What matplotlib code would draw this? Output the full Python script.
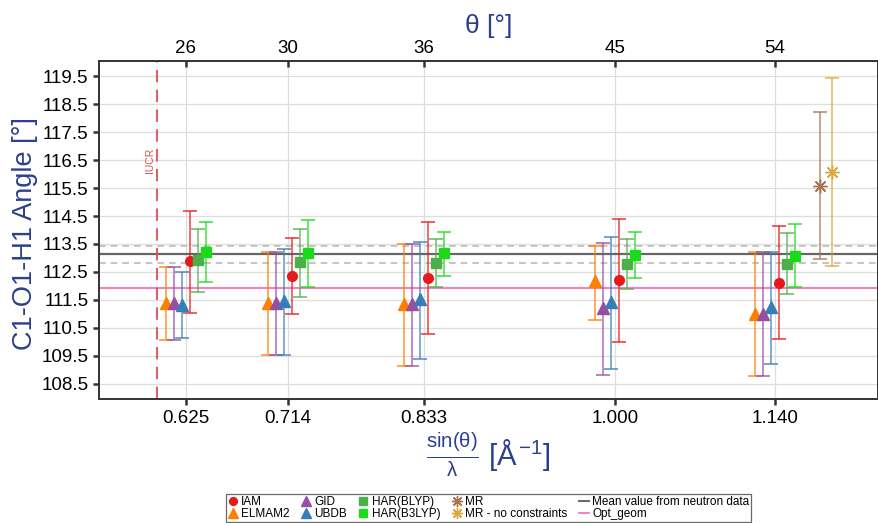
import numpy as np
import matplotlib
matplotlib.use("Agg")
import matplotlib.pyplot as plt
from matplotlib.lines import Line2D

plt.rcParams['font.family'] = ['Liberation Sans', 'DejaVu Sans']
plt.rcParams['mathtext.fontset'] = 'custom'
plt.rcParams['mathtext.rm'] = 'Liberation Sans'
plt.rcParams['mathtext.it'] = 'Liberation Sans'
plt.rcParams['mathtext.bf'] = 'Liberation Sans:bold'

# -----------------------------------
# Data
# -----------------------------------
stol = [0.625, 0.714, 0.833, 1.000, 1.140]        # sin(theta)/lambda
theta_labels = ["26", "30", "36", "45", "54"]

iam_val = [112.88, 112.37, 112.29, 112.21, 112.12]
iam_lo = [111.05, 110.99, 110.30, 110.00, 110.11]
iam_hi = [114.69, 113.73, 114.29, 114.40, 114.14]

elmam2_val = [111.40, 111.40, 111.36, 112.17, 111.01]
elmam2_lo = [110.06, 109.54, 109.15, 110.79, 108.78]
elmam2_hi = [112.69, 113.20, 113.51, 113.44, 113.20]

gid_val = [111.40, 111.40, 111.36, 111.23, 111.01]
gid_lo = [110.06, 109.54, 109.15, 108.83, 108.78]
gid_hi = [112.69, 113.20, 113.51, 113.54, 113.20]

ubdb_val = [111.33, 111.47, 111.52, 111.43, 111.25]
ubdb_lo = [110.13, 109.52, 109.39, 109.02, 109.20]
ubdb_hi = [112.49, 113.31, 113.57, 113.75, 113.23]

blyp_val = [112.92, 112.85, 112.83, 112.80, 112.80]
blyp_lo = [111.79, 111.62, 111.98, 111.89, 111.70]
blyp_hi = [114.02, 114.05, 113.68, 113.68, 113.90]

b3lyp_val = [113.23, 113.17, 113.17, 113.12, 113.07]
b3lyp_lo = [112.13, 111.95, 112.37, 112.29, 111.98]
b3lyp_hi = [114.29, 114.37, 113.93, 113.92, 114.20]

mr_x = [1.140]
mr_val = [115.59]
mr_lo = [112.95]
mr_hi = [118.23]

mrnc_x = [1.140]
mrnc_val = [116.07]
mrnc_lo = [112.73]
mrnc_hi = [119.44]

neutron_mean = 113.13
neutron_sd = 0.30
opt_geom = 111.93
iucr_limit = 0.600

# -----------------------------------
# Styles
# -----------------------------------
title_col = '#2B3F8E'
series = [
    # label, x, val, lo, hi, colour, marker, size, dodge
    ("IAM", stol, iam_val, iam_lo, iam_hi, '#E41A1C', 'o', 7, 0.0035),
    ("ELMAM2", stol, elmam2_val, elmam2_lo, elmam2_hi, '#FF7F00', '^', 8.5, -0.0175),
    ("GID", stol, gid_val, gid_lo, gid_hi, '#984EA3', '^', 8.5, -0.0105),
    ("UBDB", stol, ubdb_val, ubdb_lo, ubdb_hi, '#377EB8', '^', 8.5, -0.0035),
    ("HAR(BLYP)", stol, blyp_val, blyp_lo, blyp_hi, '#4DAF4A', 's', 6.8, 0.0105),
    ("HAR(B3LYP)", stol, b3lyp_val, b3lyp_lo, b3lyp_hi, '#1ADB1A', 's', 6.8, 0.0175),
    ("MR", mr_x, mr_val, mr_lo, mr_hi, '#A9744F', (8, 2, 0), 10, 0.0397),
    ("MR - no constraints", mrnc_x, mrnc_val, mrnc_lo, mrnc_hi, '#DDA63A', (8, 2, 0), 10, 0.0500),
]

fig = plt.figure(figsize=(8.79, 5.23), dpi=100)
ax = fig.add_axes([99 / 879, 1 - 399 / 523, 779 / 879, 338 / 523])

ax.set_xlim(0.549, 1.23)
ax.set_ylim(107.96, 120.04)

# grid
ax.set_xticks(stol)
ax.set_xticklabels(["%.3f" % v for v in stol])
yt = np.arange(108.5, 120.0, 1.0)
ax.set_yticks(yt)
ax.set_yticklabels(["%.1f" % v for v in yt])
ax.grid(True, color='#DEDEDE', lw=0.9, zorder=0)
ax.set_axisbelow(True)

# reference lines
ax.axhline(neutron_mean, color='#666666', lw=1.6, zorder=1)
ax.axhline(neutron_mean + neutron_sd, color='#BBBBBB', lw=1.2, ls=(0, (4, 3)), zorder=1)
ax.axhline(neutron_mean - neutron_sd, color='#BBBBBB', lw=1.2, ls=(0, (4, 3)), zorder=1)
ax.axhline(opt_geom, color='#F781BF', lw=1.5, zorder=1)
ax.axvline(iucr_limit, color='#D9534F', lw=1.5, ls=(0, (6, 3.5)), alpha=0.9, zorder=1)
ax.text(iucr_limit - 0.0065, 116.5, "IUCR", rotation=90, color='#D9534F',
        fontsize=7.5, ha='center', va='center')

# error bars + points
handles = []
for lab, xs, v, lo, hi, col, mk, ms, dx in series:
    x = np.array(xs) + dx
    v = np.array(v)
    err = [v - np.array(lo), np.array(hi) - v]
    ax.errorbar(x, v, yerr=err, fmt='none', ecolor=col, elinewidth=1.2,
                capsize=5, capthick=1.3, alpha=0.75, zorder=3)
    ax.plot(x, v, ls='none', marker=mk, ms=ms, color=col, mec=col,
            mew=1.0, zorder=4)
    handles.append(Line2D([], [], ls='none', marker=mk, ms=ms * 0.8,
                          color=col, mec=col, label=lab))
handles.append(Line2D([], [], color='#666666', lw=1.4, label="Mean value from neutron data"))
handles.append(Line2D([], [], color='#F781BF', lw=1.4, label="Opt_geom"))

# axes styling
for s in ax.spines.values():
    s.set_color('#333333')
    s.set_linewidth(1.4)
ax.tick_params(axis='both', direction='out', length=4, width=1.8, color='#333333',
               labelsize=13.5, labelcolor='black')
ax.tick_params(axis='x', pad=4)

# top axis with theta
ax2 = ax.twiny()
ax2.set_xlim(ax.get_xlim())
ax2.set_xticks(stol)
ax2.set_xticklabels(theta_labels)
ax2.tick_params(axis='x', direction='in', length=4, width=1.8, color='#333333',
                labelsize=13.5, pad=3)
for s in ax2.spines.values():
    s.set_visible(False)
ax2.set_xlabel("θ [°]", color=title_col, fontsize=19, labelpad=5)

ax.set_ylabel("C1-O1-H1 Angle [°]", color=title_col, fontsize=19.5)
ax.yaxis.set_label_coords(-0.078, 0.49)
ax.set_xlabel(r"$\frac{\mathrm{sin}(\theta)}{\lambda}\ [\AA^{-1}]$", color=title_col, fontsize=21)
ax.xaxis.set_label_coords(0.5, -0.095)

leg = fig.legend(handles=handles, ncol=5, loc='lower center',
                 bbox_to_anchor=(488.5 / 879, 1.5 / 523), fontsize=8.5,
                 frameon=True, fancybox=False, edgecolor='#444444',
                 handlelength=0.8, handletextpad=0.3, columnspacing=1.0,
                 labelspacing=0.0, borderpad=0.15, borderaxespad=0)
leg.get_frame().set_linewidth(0.9)

fig.savefig("out.png", dpi=100)
